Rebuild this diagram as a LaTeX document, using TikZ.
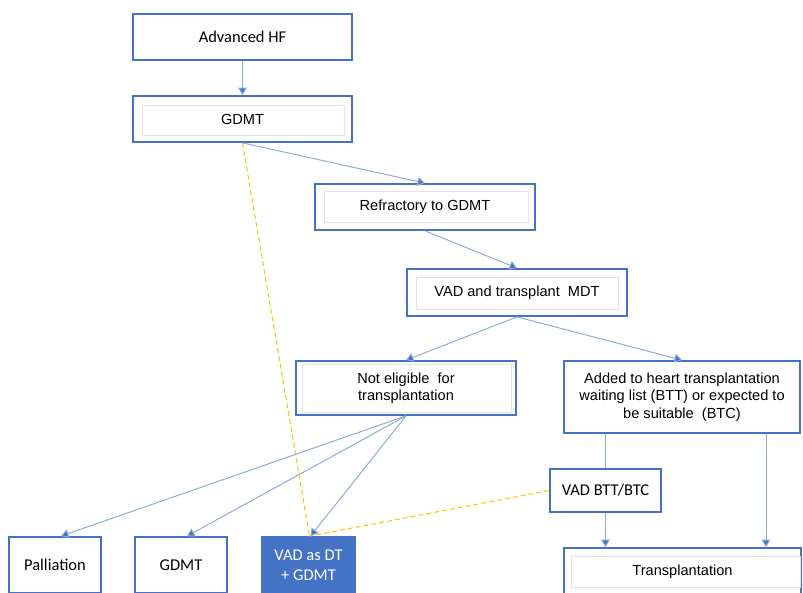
\documentclass[tikz,border=0pt]{standalone}
\usepackage{fontspec}
\setmainfont{Liberation Sans}
\newfontfamily\calib{Carlito}
\usetikzlibrary{arrows.meta}
\definecolor{boxblue}{HTML}{4472C4}
\definecolor{linkblue}{HTML}{8FAADC}
\definecolor{dashyel}{HTML}{FFC000}
\definecolor{innergray}{HTML}{E3E3E3}
\tikzset{
  box/.style={draw=boxblue, line width=1.8pt, fill=white, rectangle, align=center, inner sep=0pt},
  arialtxt/.style={font=\fontsize{14.6}{17.5}\selectfont},
  calibtxt/.style={font=\calib\fontsize{16.5}{20}\selectfont},
  filledbox/.style={box, fill=boxblue, text=white},
  link/.style={draw=linkblue, line width=1pt},
  arr/.style={link, -{Triangle[width=9pt,length=7.5pt,fill=boxblue]}},
  dashlink/.style={draw=dashyel, line width=1pt, dash pattern=on 5pt off 3pt},
  innerbox/.style={draw=innergray, line width=0.6pt}
}
\begin{document}
\begin{tikzpicture}[x=1pt,y=-1pt]
\useasboundingbox (0,0) rectangle (803,592);
\clip (0,0) rectangle (803,592);
% nodes
\node[box, calibtxt, minimum width=219pt, minimum height=46pt] (adv) at (242.5,37) {Advanced HF};
\node[box, arialtxt, minimum width=219pt, minimum height=46pt] (gdmt) at (242.5,119) {GDMT};
\node[box, arialtxt, minimum width=220pt, minimum height=46pt] (refr) at (425,207) {Refractory to GDMT};
\node[box, arialtxt, minimum width=220pt, minimum height=47pt] (mdt) at (517,292.5) {VAD and transplant\ \ MDT};
\node[box, arialtxt, minimum width=220pt, minimum height=54pt] (note) at (406,388) {Not eligible\ \ for\\transplantation};
\node[box, arialtxt, minimum width=236pt, minimum height=72pt] (added) at (682,397) {Added to heart transplantation\\waiting list (BTT) or expected to\\be suitable\ \ (BTC)};
\node[box, calibtxt, minimum width=111pt, minimum height=43pt] (btt) at (605.5,490.5) {VAD BTT/BTC};
\node[box, arialtxt, minimum width=237pt, minimum height=48pt] (trans) at (682.5,572) {Transplantation};
\node[box, calibtxt, minimum width=92pt, minimum height=56pt] (pall) at (55,565) {Palliation};
\node[box, calibtxt, minimum width=92pt, minimum height=56pt] (gdmtb) at (181,565) {GDMT};
\node[filledbox, calibtxt, minimum width=93pt, minimum height=56pt] (vaddt) at (308.5,565) {VAD as DT\\+ GDMT};
% inner faint boxes
\draw[innerbox] ([shift={(10,10)}]gdmt.north west) rectangle ([shift={(-9,-8)}]gdmt.south east);
\draw[innerbox] ([shift={(10,8)}]refr.north west) rectangle ([shift={(-8,-9)}]refr.south east);
\draw[innerbox] ([shift={(10,9)}]mdt.north west) rectangle ([shift={(-10,-8)}]mdt.south east);
\draw[innerbox] ([shift={(7,4)}]note.north west) rectangle ([shift={(-6,-4)}]note.south east);
\draw[innerbox] ([shift={(8,9)}]trans.north west) rectangle ([shift={(-2,-10)}]trans.south east);
% connectors
\coordinate (r766) at (766,0);
\draw[arr] (adv.south) -- (gdmt.north);
\draw[arr] (gdmt.south) -- (refr.north);
\draw[arr] (refr.south) -- (mdt.north);
\draw[arr] (mdt.south) -- (note.north);
\draw[arr] (mdt.south) -- (added.north);
\draw[arr] (note.south) -- ([xshift=6pt]pall.north);
\draw[arr] (note.south) -- ([xshift=6pt]gdmtb.north);
\draw[arr] (note.south) -- ([xshift=2pt]vaddt.north);
\draw[link] (added.south -| btt.north) -- (btt.north);
\draw[arr] (btt.south) -- (trans.north -| btt.south);
\draw[arr] (added.south -| r766) -- (trans.north -| r766);
% dashed links
\draw[dashlink] (gdmt.south) -- ([xshift=1pt]vaddt.north);
\draw[dashlink] (btt.west) -- ([xshift=1pt]vaddt.north);
\end{tikzpicture}
\end{document}
